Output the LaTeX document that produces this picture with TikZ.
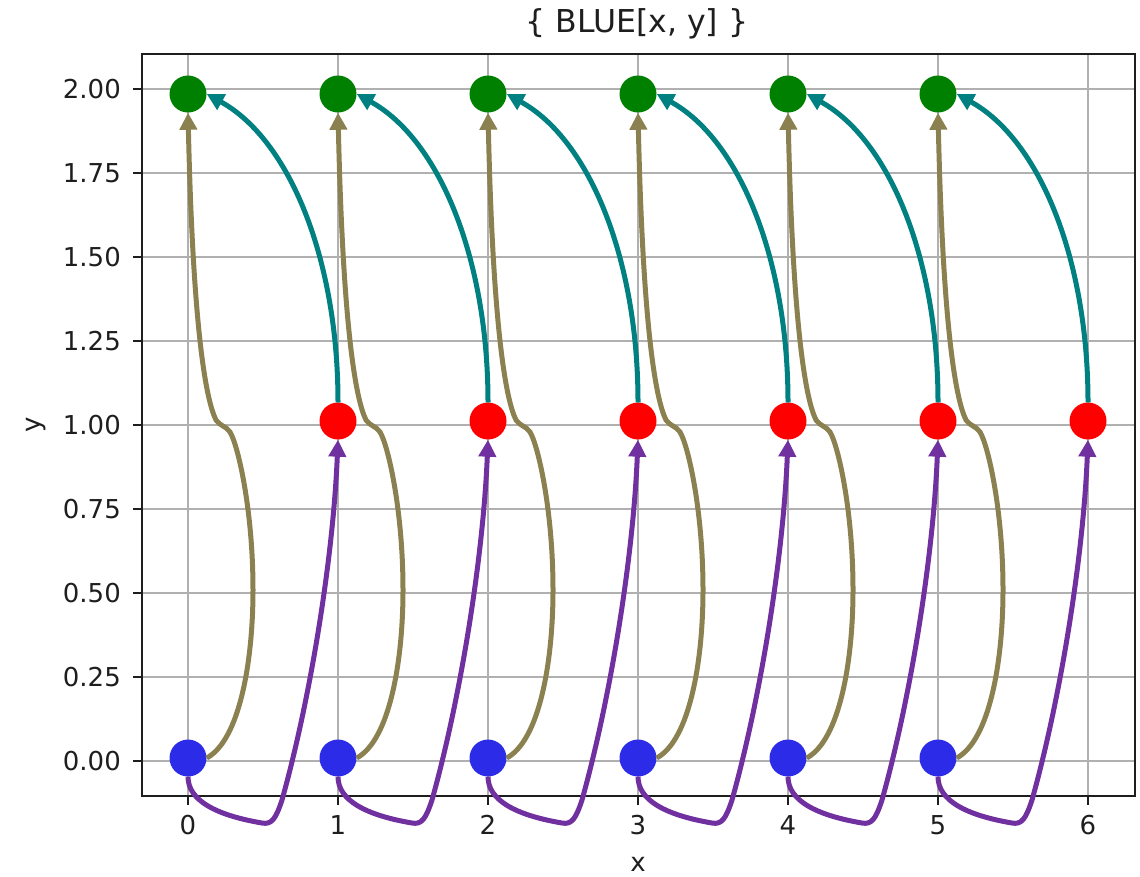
\documentclass[tikz,border=0pt]{standalone}
\usepackage{fontspec}
\setmainfont{DejaVu Sans}
\usetikzlibrary{arrows.meta}
\definecolor{nblue}{RGB}{44,44,232}
\definecolor{nred}{RGB}{255,0,0}
\definecolor{ngreen}{RGB}{0,128,0}
\definecolor{epurple}{RGB}{112,48,160}
\definecolor{eolive}{RGB}{139,129,80}
\definecolor{eteal}{RGB}{0,128,128}
\definecolor{gridgray}{RGB}{176,176,176}
\definecolor{axisblack}{RGB}{30,30,30}
\tikzset{
  dot/.style={circle,inner sep=0pt,minimum size=37pt,draw=none},
  bluedot/.style={dot,fill=nblue},
  reddot/.style={dot,fill=nred},
  greendot/.style={dot,fill=ngreen},
  edge/.style={line width=5pt,-{Triangle[length=17pt,width=17pt]}},
  purpleedge/.style={edge,draw=epurple},
  oliveedge/.style={edge,draw=eolive},
  tealedge/.style={edge,draw=eteal},
  gridline/.style={draw=gridgray,line width=2.2pt},
  frame/.style={draw=axisblack,line width=2.2pt},
  tickmark/.style={draw=axisblack,line width=2.2pt},
  ticklabel/.style={inner sep=0pt,font=\fontsize{26}{31}\selectfont,text=axisblack},
  titlelabel/.style={inner sep=0pt,font=\fontsize{31.5}{38}\selectfont,text=axisblack}
}
\begin{document}
\begin{tikzpicture}[x=1pt,y=-1pt]
\useasboundingbox (0,0) rectangle (1140,876);
% grid
\foreach \k in {0,...,6} {
  \draw[gridline] (188+150*\k,54) -- (188+150*\k,796);
}
\foreach \j in {0,...,8} {
  \draw[gridline] (142,761-84*\j) -- (1135,761-84*\j);
}
% frame
\draw[frame] (142,54) rectangle (1135,796);
% x ticks
\foreach \k in {0,...,6} {
  \draw[tickmark] (188+150*\k,796) -- (188+150*\k,805);
  \node[ticklabel,anchor=north] (xt\k) at (188+150*\k,815) {\k};
}
% y ticks
\foreach \j/\lab in {0/0.00,1/0.25,2/0.50,3/0.75,4/1.00,5/1.25,6/1.50,7/1.75,8/2.00} {
  \draw[tickmark] (133,761-84*\j) -- (142,761-84*\j);
  \node[ticklabel,anchor=east] (yt\j) at (121,761-84*\j) {\lab};
}
% axis labels and title
\node[ticklabel] (xlabel) at (638,864) {x};
\node[ticklabel,rotate=90] (ylabel) at (36,425) {y};
\node[titlelabel] (title) at (637,24) {\{ BLUE[x, y] \}};
% nodes
\foreach \k in {0,...,5} {
  \node[bluedot] (b\k) at (188+150*\k,758) {};
  \node[greendot] (g\k) at (188+150*\k,94) {};
}
\foreach \k in {1,...,6} {
  \node[reddot] (r\k) at (188+150*\k,421) {};
}
% purple edges: blue k -> red k+1
\foreach \k in {0,...,5} {
  \pgfmathtruncatemacro\X{188+150*\k}
  \pgfmathtruncatemacro\kk{\k+1}
  \draw[purpleedge] (b\k.south) .. controls (\X,800) and (\X+27,815) .. (\X+74,823)
     .. controls (\X+84,825) and (\X+88,818) .. (\X+94,800)
     .. controls (\X+122,700) and (\X+145,560) .. (r\kk.south);
}
% olive edges: blue k -> green k
\foreach \k in {0,...,5} {
  \pgfmathtruncatemacro\X{188+150*\k}
  \draw[oliveedge] (b\k.east) .. controls (\X+52,740) and (\X+65,660) .. (\X+65,590)
     .. controls (\X+65,510) and (\X+50,445) .. (\X+42,432)
     .. controls (\X+38,426) and (\X+32,426) .. (\X+28,420)
     .. controls (\X+18,400) and (\X+5,330) .. (g\k.south);
}
% teal edges: red k -> green k-1
\foreach \k in {1,...,6} {
  \pgfmathtruncatemacro\X{188+150*\k}
  \pgfmathtruncatemacro\km{\k-1}
  \draw[tealedge] (r\k.north) .. controls (\X,260) and (\X-48,140) .. (g\km.east);
}
\end{tikzpicture}
\end{document}
